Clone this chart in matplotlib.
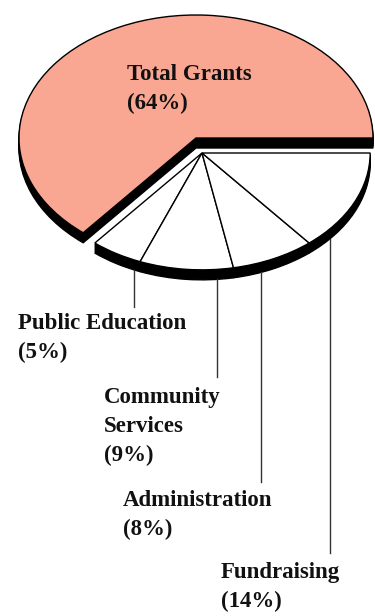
import numpy as np
import matplotlib.pyplot as plt

# data
labels = ['Total Grants', 'Public Education', 'Community\nServices', 'Administration', 'Fundraising']
values = [64, 5, 9, 8, 14]
colors = ['#f9a792', 'white', 'white', 'white', 'white']

# layout (reference pixels -> data units)
W, H = 375, 616
cx_px, cy_px = 196, 138      # vertex of the big slice
sx, sy = 177.0, 123.0        # px per data unit
def px(x, y):
    return (x - cx_px) / sx, (cy_px - y) / sy

big_c = (0.0, 0.0)
small_c = px(202, 153)
small_r = 0.95
depth = 10 / sy

fig = plt.figure(figsize=(W / 100, H / 100), dpi=100)
ax = fig.add_axes([0, 0, 1, 1])

def draw(center, radius, show, face):
    # shadow: a few stacked black copies give the thickness
    for d in np.linspace(depth, 0, 6)[:-1]:
        w, _ = ax.pie(values, startangle=0, counterclock=True, radius=radius,
                      center=(center[0], center[1] - d), colors=['black'] * 5,
                      wedgeprops=dict(linewidth=1, edgecolor='black'))
        for wi, s in zip(w, show):
            wi.set_visible(s)
    w, _ = ax.pie(values, startangle=0, counterclock=True, radius=radius,
                  center=center, colors=face,
                  wedgeprops=dict(linewidth=1, edgecolor='black'))
    for wi, s in zip(w, show):
        wi.set_visible(s)

draw(big_c, 1.0, [True, False, False, False, False], colors)
draw(small_c, small_r, [False, True, True, True, True], colors)

ax.set_aspect('auto')
ax.set_xlim(-cx_px / sx, (W - cx_px) / sx)
ax.set_ylim(-(H - cy_px) / sy, cy_px / sy)
ax.axis('off')

font = dict(family=['Liberation Serif', 'DejaVu Serif'], fontweight='bold',
            fontsize=16.5, color='#111111', ha='left', va='top', linespacing=1.5)

# big slice label
tx, ty = px(127, 64)
ax.text(tx, ty, 'Total Grants\n(%d%%)' % values[0], **font)

# small slice labels with vertical leader lines
lead_x = [134, 217, 261, 330]
lead_bottom = [307, 377, 482, 553]
text_pos = [(18, 313), (104, 387), (123, 490), (221, 562)]
for i in range(1, 5):
    lx, lb = px(lead_x[i - 1], lead_bottom[i - 1])
    dx = (lx - small_c[0]) / small_r
    top = small_c[1] - small_r * np.sqrt(max(0.0, 1 - dx ** 2)) - depth
    ax.plot([lx, lx], [top, lb], color='#333333', linewidth=1)
    tx, ty = px(*text_pos[i - 1])
    ax.text(tx, ty, '%s\n(%d%%)' % (labels[i], values[i]), **font)

fig.savefig('out.png', dpi=100, facecolor='white')
